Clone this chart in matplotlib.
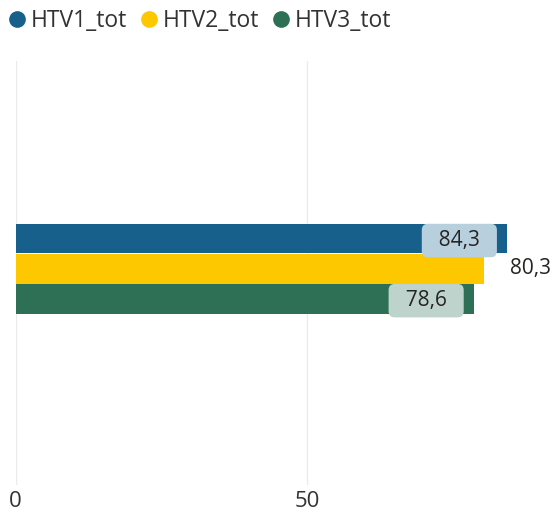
import matplotlib
matplotlib.use("Agg")
import matplotlib.pyplot as plt
from matplotlib.lines import Line2D

plt.rcParams['font.family'] = ['Open Sans', 'DejaVu Sans']

series = ["HTV1_tot", "HTV2_tot", "HTV3_tot"]
values = [84.3, 80.3, 78.6]
labels = ["84,3", "80,3", "78,6"]
colors = ["#17608b", "#fdc800", "#2d7055"]
label_inside = [True, False, True]
box_colors = ["#b8cfdd", None, "#bed3cb"]

fig = plt.figure(figsize=(5.52, 5.17), dpi=100)
ax = fig.add_axes([15.7/552, 32/517, 536/552, 424/517])

bh = 0.069
step = 0.0709
offsets = [step, 0, -step]
for s, v, lab, c, inside, bc, off in zip(series, values, labels, colors, label_inside, box_colors, offsets):
    yc = 0.0097 + off
    ax.barh(yc, v, height=bh, color=c, zorder=2)
    if inside:
        ax.text(v - 8.15, yc - 0.004, "  " + lab + "  ", ha='center', va='center', fontsize=15, color='#252423', zorder=4,
                bbox=dict(boxstyle='round,pad=0.3,rounding_size=0.3', fc=bc, ec='none'))
    else:
        ax.text(v + 4.5, yc, lab, ha='left', va='center', fontsize=15, color='#252423', zorder=4)

ax.set_xlim(0, 92)
ax.set_ylim(-0.5, 0.5)
ax.set_xticks([0, 50])
ax.set_xticklabels(["0", "50"])
ax.set_yticks([])
ax.grid(axis='x', color='#ebebeb', lw=1, zorder=0)
for sp in ax.spines.values():
    sp.set_visible(False)
ax.tick_params(axis='x', length=0, labelsize=16, labelcolor='#333333', pad=4)

handles = [Line2D([0], [0], marker='o', linestyle='', markersize=11, markerfacecolor=c, markeredgecolor=c) for c in colors]
fig.legend(handles, series, loc='upper left', bbox_to_anchor=(-0.028, 1.022), ncol=3, frameon=False,
           fontsize=16.5, handletextpad=0.11, columnspacing=0.45, handlelength=1.0, labelcolor='#333333')

fig.savefig("out.png", dpi=100)
